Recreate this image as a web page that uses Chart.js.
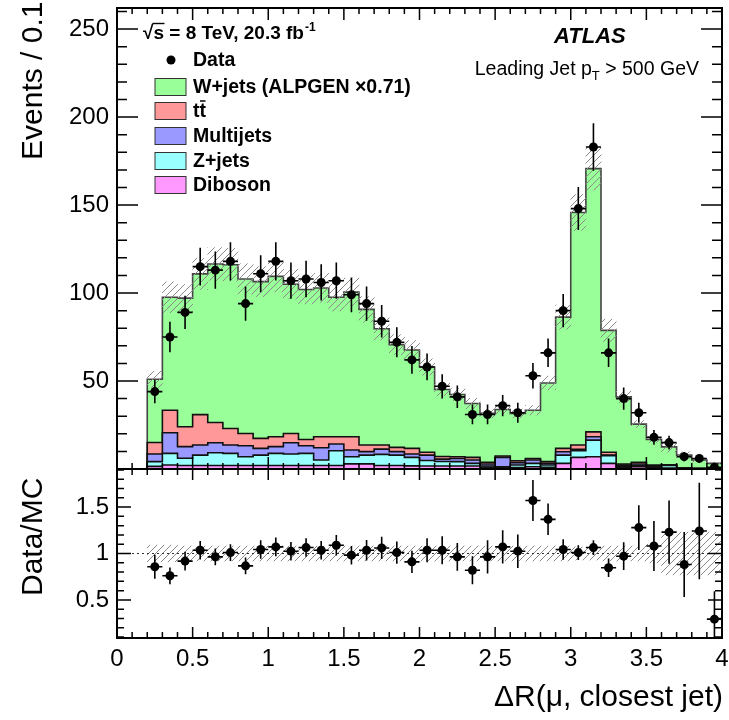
<!doctype html>
<html>

<head>
	<title>DeltaR(mu, closest jet)</title>
	<script src="https://cdn.jsdelivr.net/npm/chart.js@4.4.1/dist/chart.umd.min.js"></script>
	<style>
		body {
			margin: 0;
			background: #fff;
		}
		#wrap {
			position: relative;
			width: 729px;
			height: 720px;
			overflow: hidden;
		}
		canvas {
			position: absolute;
			left: 0;
		}
	</style>
</head>

<body>
	<div id="wrap">
		<canvas id="canvas" width="729" height="490" style="top:0px; width:729px; height:490px;"></canvas>
		<canvas id="canvas2" width="729" height="270" style="top:450px; width:729px; height:270px;"></canvas>
	</div>
	<script>
		var fam = '"Liberation Sans", Arial, Helvetica, sans-serif';
		Chart.defaults.font.family = fam;
		Chart.defaults.color = '#000';

		// bins of 0.1 in dR, first filled bin is 0.2-0.3
		var binCenters = [0.25, 0.35, 0.45, 0.55, 0.65, 0.75, 0.85, 0.95, 1.05, 1.15,
			1.25, 1.35, 1.45, 1.55, 1.65, 1.75, 1.85, 1.95, 2.05, 2.15,
			2.25, 2.35, 2.45, 2.55, 2.65, 2.75, 2.85, 2.95, 3.05, 3.15,
			3.25, 3.35, 3.45, 3.55, 3.65, 3.75, 3.85, 3.95];

		var dataCounts = [44, 75, 89, 115, 113, 118, 94, 111, 118, 107,
			108, 106, 107, 99, 94, 84, 72, 62, 58, 47,
			41, 31, 31, 36, 32, 53, 66, 90, 148, 183,
			66, 40, 32, 18, 15, 7, 6, 1];
		var dataErr = [6.6, 8.7, 9.4, 10.7, 10.6, 10.9, 9.7, 10.5, 10.9, 10.3,
			10.4, 10.3, 10.3, 9.9, 9.7, 9.2, 8.5, 7.9, 7.6, 6.9,
			6.4, 5.6, 5.6, 6.0, 5.7, 7.3, 8.1, 9.5, 12.2, 13.5,
			8.1, 6.3, 5.7, 4.2, 3.9, 2.6, 2.4, 1.0];

		var wjets = [35.9, 64.2, 73.1, 80.0, 90.1, 93.1, 87.8, 89.1, 91.2, 84.8,
			85.2, 84.6, 79.3, 82.2, 77.1, 66.1, 58.4, 55.9, 48.5, 38.1,
			35.3, 30.6, 27.8, 26.4, 26.9, 27.4, 44.7, 74.6, 132.2, 149.6,
			69.3, 38.2, 21.7, 14.5, 10.2, 7.3, 4.7, 2.9];
		var ttbar = [6.6, 12.8, 11.3, 17.3, 11.5, 9.4, 7.0, 5.7, 5.6, 5.3,
			3.6, 6.2, 4.1, 7.5, 3.7, 2.3, 2.4, 3.2, 1.6, 1.5,
			1.0, 1.5, 1.0, 0.8, 1.1, 0.9, 1.0, 1.9, 2.4, 2.8,
			1.6, 0.6, 1.0, 0.5, 0.2, 0.1, 0.1, 0.1];
		var multijet = [4.3, 11.7, 6.6, 5.7, 5.7, 4.7, 6.2, 3.8, 3.8, 6.4,
			4.3, 7.0, 3.8, 3.8, 2.0, 3.0, 2.0, 1.9, 3.1, 1.3,
			1.8, 1.9, 1.1, 5.3, 1.3, 1.9, 0.9, 1.9, 0.8, 1.9,
			0.3, 0.9, 0.8, 0.5, 0.2, 0.1, 0.1, 0.0];
		var zjets = [2.7, 6.6, 4.1, 5.9, 7.2, 6.9, 5.0, 5.9, 6.9, 6.5,
			6.9, 3.1, 8.4, 4.1, 5.0, 6.3, 5.9, 4.8, 3.1, 2.6,
			2.5, 1.5, 0.8, 0.5, 1.5, 1.9, 1.3, 4.7, 3.8, 9.4,
			4.4, 0.5, 0.7, 0.5, 1.5, 0.2, 0.1, 0.1];
		var diboson = [1.5, 2.3, 2.0, 2.0, 2.0, 2.0, 2.0, 2.0, 2.0, 2.0,
			2.0, 2.0, 2.0, 2.9, 2.9, 2.0, 2.0, 1.8, 1.7, 1.7,
			1.7, 1.7, 0.9, 0.8, 0.8, 1.3, 1.0, 3.2, 6.6, 7.0,
			3.2, 0.8, 1.3, 0.8, 0.5, 0.2, 0.1, 0.1];
		// relative MC uncertainty (hatched band)
		var mcRelUnc = [0.09, 0.09, 0.08, 0.08, 0.08, 0.08, 0.08, 0.08, 0.08, 0.08,
			0.08, 0.08, 0.08, 0.08, 0.08, 0.08, 0.08, 0.08, 0.08, 0.08,
			0.08, 0.08, 0.08, 0.08, 0.08, 0.08, 0.08, 0.08, 0.07, 0.07,
			0.08, 0.08, 0.08, 0.10, 0.23, 0.23, 0.23, 0.23];

		var ratio = [0.857, 0.76, 0.918, 1.035, 0.964, 1.01, 0.867, 1.043, 1.071, 1.025,
			1.064, 1.035, 1.089, 0.982, 1.035, 1.06, 1.01, 0.91, 1.035, 1.035,
			0.964, 0.82, 0.964, 1.071, 1.025, 1.571, 1.368, 1.043, 1.01, 1.064,
			0.846, 0.971, 1.279, 1.081, 1.23, 0.882, 1.242, 0.293];
		var ratioErr = [0.13, 0.09, 0.10, 0.10, 0.09, 0.09, 0.09, 0.10, 0.10, 0.10,
			0.10, 0.10, 0.11, 0.10, 0.11, 0.12, 0.12, 0.12, 0.13, 0.15,
			0.15, 0.15, 0.18, 0.18, 0.18, 0.22, 0.17, 0.11, 0.08, 0.08,
			0.10, 0.15, 0.24, 0.27, 0.34, 0.35, 0.52, 0.30];

		var xTicks = [0, 0.5, 1, 1.5, 2, 2.5, 3, 3.5, 4];
		var topYTicks = [50, 100, 150, 200, 250];
		var ratioYTicks = [0.5, 1, 1.5];

		var halfBin = 0.05;

		// histogram outline points at the bin edges
		function stepPoints(vals) {
			var n = vals.length;
			var pts = [{ x: binCenters[0] - halfBin, y: 0 }];
			vals.forEach(function (v, i) {
				pts.push({ x: binCenters[i] - halfBin, y: v });
			});
			pts.push({ x: binCenters[n - 1] + halfBin, y: vals[n - 1] });
			pts.push({ x: binCenters[n - 1] + halfBin, y: 0 });
			return pts;
		}

		function points(vals) {
			return vals.map(function (v, i) { return { x: binCenters[i], y: v }; });
		}

		// stack, bottom to top
		var layers = [
			{ name: 'Diboson', vals: diboson, color: '#ff99ff', line: '#111' },
			{ name: 'Z+jets', vals: zjets, color: '#99ffff', line: '#111' },
			{ name: 'Multijets', vals: multijet, color: '#9999ff', line: '#111' },
			{ name: 'ttbar', vals: ttbar, color: '#ff9999', line: '#111' },
			{ name: 'W+jets', vals: wjets, color: '#99ff99', line: '#444' }
		];
		var running = binCenters.map(function () { return 0; });
		layers.forEach(function (l) {
			running = running.map(function (r, i) { return r + l.vals[i]; });
			l.cum = running;
		});
		var total = running;

		function hatch(ctxSrc) {
			var c = document.createElement('canvas');
			c.width = 7; c.height = 7;
			var g = c.getContext('2d');
			g.strokeStyle = '#8a8a8a';
			g.lineWidth = 1;
			g.beginPath();
			g.moveTo(-1, 8); g.lineTo(8, -1);
			g.moveTo(-1, 1); g.lineTo(1, -1);
			g.moveTo(6, 8); g.lineTo(8, 6);
			g.stroke();
			return ctxSrc.createPattern(c, 'repeat');
		}

		function fixAxis(w, h) {
			return function (s) {
				if (w !== null) s.width = w;
				if (h !== null) s.height = h;
				s.paddingTop = 0; s.paddingBottom = 0; s.paddingLeft = 0; s.paddingRight = 0;
			};
		}

		function setTicks(list) {
			return function (s) {
				s.ticks = list.map(function (v) { return { value: v }; });
			};
		}

		function plainLabel(v) {
			return String(v);
		}

		function framePlugin(t) {
			return {
				id: 'frame',
				afterDraw: function (chart) {
					var ctx = chart.ctx, a = chart.chartArea, xs = chart.scales.x, ys = chart.scales.y;
					ctx.save();
					ctx.strokeStyle = '#000';
					ctx.lineWidth = 1.5;
					ctx.beginPath();
					for (var i = 0; i <= 40; i++) {
						var px = xs.getPixelForValue(i * 0.1);
						var len = (i % 5 === 0) ? t.xMajor : t.xMinor;
						ctx.moveTo(px, a.bottom); ctx.lineTo(px, a.bottom - len);
						ctx.moveTo(px, a.top); ctx.lineTo(px, a.top + len);
					}
					for (var j = t.yFrom; j <= t.yTo; j++) {
						var py = ys.getPixelForValue(j * t.yStep);
						var l2 = (j % t.yEvery === 0) ? t.yMajor : t.yMinor;
						ctx.moveTo(a.left, py); ctx.lineTo(a.left + l2, py);
						ctx.moveTo(a.right, py); ctx.lineTo(a.right - l2, py);
					}
					ctx.stroke();
					ctx.lineWidth = 2;
					ctx.strokeRect(a.left, a.top, a.right - a.left, a.bottom - a.top);
					ctx.restore();
				}
			};
		}

		function errorBars(vals, errs) {
			return {
				id: 'errorBars',
				afterDatasetsDraw: function (chart) {
					var ctx = chart.ctx, a = chart.chartArea, xs = chart.scales.x, ys = chart.scales.y;
					ctx.save();
					ctx.beginPath();
					ctx.rect(a.left, a.top, a.right - a.left, a.bottom - a.top);
					ctx.clip();
					ctx.strokeStyle = '#000';
					ctx.lineWidth = 1.6;
					ctx.beginPath();
					vals.forEach(function (v, i) {
						var x = xs.getPixelForValue(binCenters[i]);
						var y = ys.getPixelForValue(v);
						ctx.moveTo(x, ys.getPixelForValue(v - errs[i]));
						ctx.lineTo(x, ys.getPixelForValue(v + errs[i]));
						ctx.moveTo(xs.getPixelForValue(binCenters[i] - halfBin), y);
						ctx.lineTo(xs.getPixelForValue(binCenters[i] + halfBin), y);
					});
					ctx.stroke();
					ctx.restore();
				}
			};
		}

		function vText(ctx, text, x, y, size) {
			ctx.save();
			ctx.translate(x, y);
			ctx.rotate(-Math.PI / 2);
			ctx.font = size + 'px ' + fam;
			ctx.textAlign = 'left';
			ctx.textBaseline = 'alphabetic';
			ctx.fillText(text, 0, 0);
			ctx.restore();
		}

		var topLabels = {
			id: 'topLabels',
			afterDraw: function (chart) {
				var ctx = chart.ctx;
				ctx.save();
				ctx.fillStyle = '#000';
				ctx.strokeStyle = '#000';

				vText(ctx, 'Events / 0.1', 42, 160, 30);

				// sqrt(s) line
				var x = 143, y = 39;
				ctx.font = 'bold 19px ' + fam;
				ctx.textBaseline = 'alphabetic';
				ctx.fillText('\u221a', x, y);
				var w1 = ctx.measureText('\u221a').width;
				ctx.fillText('s', x + w1, y);
				var w2 = ctx.measureText('s').width;
				ctx.lineWidth = 1.4;
				ctx.beginPath();
				ctx.moveTo(x + w1 - 1, y - 15.5);
				ctx.lineTo(x + w1 + w2 + 0.5, y - 15.5);
				ctx.stroke();
				var rest = ' = 8 TeV, 20.3 fb';
				ctx.fillText(rest, x + w1 + w2, y);
				var w3 = ctx.measureText(rest).width;
				ctx.font = 'bold 12px ' + fam;
				ctx.fillText('-1', x + w1 + w2 + w3 + 1, y - 8);

				// legend
				var rows = [
					{ y: 60, text: 'Data' },
					{ y: 87, text: 'W+jets (ALPGEN \u00d70.71)', color: '#99ff99' },
					{ y: 111, text: 'tt', color: '#ff9999', bar: true },
					{ y: 136, text: 'Multijets', color: '#9999ff' },
					{ y: 161, text: 'Z+jets', color: '#99ffff' },
					{ y: 185, text: 'Diboson', color: '#ff99ff' }
				];
				ctx.font = 'bold 19.5px ' + fam;
				ctx.textBaseline = 'middle';
				rows.forEach(function (r) {
					if (r.color) {
						ctx.fillStyle = r.color;
						ctx.fillRect(155, r.y - 8.5, 31, 17);
						ctx.lineWidth = 1;
						ctx.strokeStyle = '#333';
						ctx.strokeRect(155, r.y - 8.5, 31, 17);
					} else {
						ctx.fillStyle = '#000';
						ctx.beginPath();
						ctx.arc(171, r.y, 4.5, 0, 2 * Math.PI);
						ctx.fill();
					}
					ctx.fillStyle = '#000';
					ctx.fillText(r.text, 193, r.y + 1);
					if (r.bar) {
						var tw = ctx.measureText('t').width;
						ctx.strokeStyle = '#000';
						ctx.lineWidth = 1.5;
						ctx.beginPath();
						ctx.moveTo(193 + tw + 0.5, r.y - 10);
						ctx.lineTo(193 + 2 * tw - 0.5, r.y - 10);
						ctx.stroke();
					}
				});

				// ATLAS label
				ctx.textBaseline = 'alphabetic';
				ctx.font = 'italic bold 22px ' + fam;
				ctx.fillText('ATLAS', 554, 43);

				// pT cut, right aligned
				var right = 699, by = 75;
				var p1 = 'Leading Jet p', p2 = 'T', p3 = ' > 500 GeV';
				ctx.font = '19.5px ' + fam;
				var a1 = ctx.measureText(p1).width, a3 = ctx.measureText(p3).width;
				ctx.font = '13px ' + fam;
				var a2 = ctx.measureText(p2).width;
				var sx = right - a1 - a2 - a3;
				ctx.font = '19.5px ' + fam;
				ctx.fillText(p1, sx, by);
				ctx.fillText(p3, sx + a1 + a2, by);
				ctx.font = '13px ' + fam;
				ctx.fillText(p2, sx + a1, by + 5);
				ctx.restore();
			}
		};

		var botLabels = {
			id: 'botLabels',
			afterDraw: function (chart) {
				var ctx = chart.ctx;
				ctx.save();
				ctx.fillStyle = '#000';
				vText(ctx, 'Data/MC', 42, 146, 30);
				ctx.font = '30px ' + fam;
				ctx.textAlign = 'right';
				ctx.textBaseline = 'alphabetic';
				ctx.fillText('\u0394R(\u03bc, closest jet)', 723, 256);
				ctx.restore();
			}
		};

		window.onload = function () {
			var ctx = document.getElementById('canvas').getContext('2d');
			var ctx2 = document.getElementById('canvas2').getContext('2d');

			var stackSets = layers.slice().map(function (l) {
				return {
					label: l.name,
					data: stepPoints(l.cum),
					stepped: true,
					fill: 'origin',
					backgroundColor: l.color,
					borderColor: l.line,
					borderWidth: 1.6,
					pointRadius: 0
				};
			});

			var band = total.map(function (t, i) {
				return { x: binCenters[i], y: [t * (1 - mcRelUnc[i]), t * (1 + mcRelUnc[i])] };
			});
			var ratioBand = binCenters.map(function (c, i) {
				return { x: c, y: [1 - mcRelUnc[i], 1 + mcRelUnc[i]] };
			});

			window.topChart = new Chart(ctx, {
				type: 'line',
				data: {
					datasets: [{
						label: 'Data',
						data: points(dataCounts),
						showLine: false,
						pointRadius: 4.5,
						pointBackgroundColor: '#000',
						pointBorderWidth: 0
					}, {
						type: 'bar',
						label: 'MC uncertainty',
						data: band,
						backgroundColor: hatch(ctx),
						borderWidth: 0,
						barPercentage: 1,
						categoryPercentage: 1
					}].concat(stackSets)
				},
				options: {
					responsive: false,
					animation: false,
					events: [],
					layout: { padding: { top: 8, right: 7, bottom: 21, left: 0 } },
					plugins: { legend: { display: false }, tooltip: { enabled: false } },
					scales: {
						x: { type: 'linear', min: 0, max: 4, offset: false, display: false },
						y: {
							min: 0,
							max: 262,
							grid: { display: false, drawTicks: false },
							border: { display: false },
							afterBuildTicks: setTicks(topYTicks),
							afterFit: fixAxis(117, null),
							ticks: { font: { size: 24 }, padding: 8, callback: plainLabel }
						}
					}
				},
				plugins: [framePlugin({ xMajor: 12, xMinor: 6, yFrom: 1, yTo: 26, yStep: 10, yEvery: 5, yMajor: 21, yMinor: 10 }),
					errorBars(dataCounts, dataErr), topLabels]
			});

			window.ratioChart = new Chart(ctx2, {
				type: 'line',
				data: {
					datasets: [{
						label: 'Data/MC',
						data: points(ratio),
						showLine: false,
						pointRadius: 4.5,
						pointBackgroundColor: '#000',
						pointBorderWidth: 0
					}, {
						label: 'one',
						data: [{ x: 0, y: 1 }, { x: 4, y: 1 }],
						borderColor: '#333',
						borderWidth: 1,
						borderDash: [2, 3],
						pointRadius: 0
					}, {
						type: 'bar',
						label: 'MC uncertainty',
						data: ratioBand,
						backgroundColor: hatch(ctx2),
						borderWidth: 0,
						barPercentage: 1,
						categoryPercentage: 1
					}]
				},
				options: {
					responsive: false,
					animation: false,
					events: [],
					layout: { padding: { top: 19, right: 7, bottom: 0, left: 0 } },
					plugins: { legend: { display: false }, tooltip: { enabled: false } },
					scales: {
						x: {
							type: 'linear',
							min: 0,
							max: 4,
							offset: false,
							grid: { display: false, drawTicks: false },
							border: { display: false },
							afterBuildTicks: setTicks(xTicks),
							afterFit: fixAxis(null, 82),
							ticks: { font: { size: 24 }, padding: 7, maxRotation: 0, autoSkip: false, callback: plainLabel }
						},
						y: {
							min: 0.09,
							max: 1.91,
							grid: { display: false, drawTicks: false },
							border: { display: false },
							afterBuildTicks: setTicks(ratioYTicks),
							afterFit: fixAxis(117, null),
							ticks: { font: { size: 24 }, padding: 8, callback: plainLabel }
						}
					}
				},
				plugins: [framePlugin({ xMajor: 11, xMinor: 6, yFrom: 1, yTo: 19, yStep: 0.1, yEvery: 5, yMajor: 14, yMinor: 7 }),
					errorBars(ratio, ratioErr), botLabels]
			});
		};
	</script>
</body>

</html>
